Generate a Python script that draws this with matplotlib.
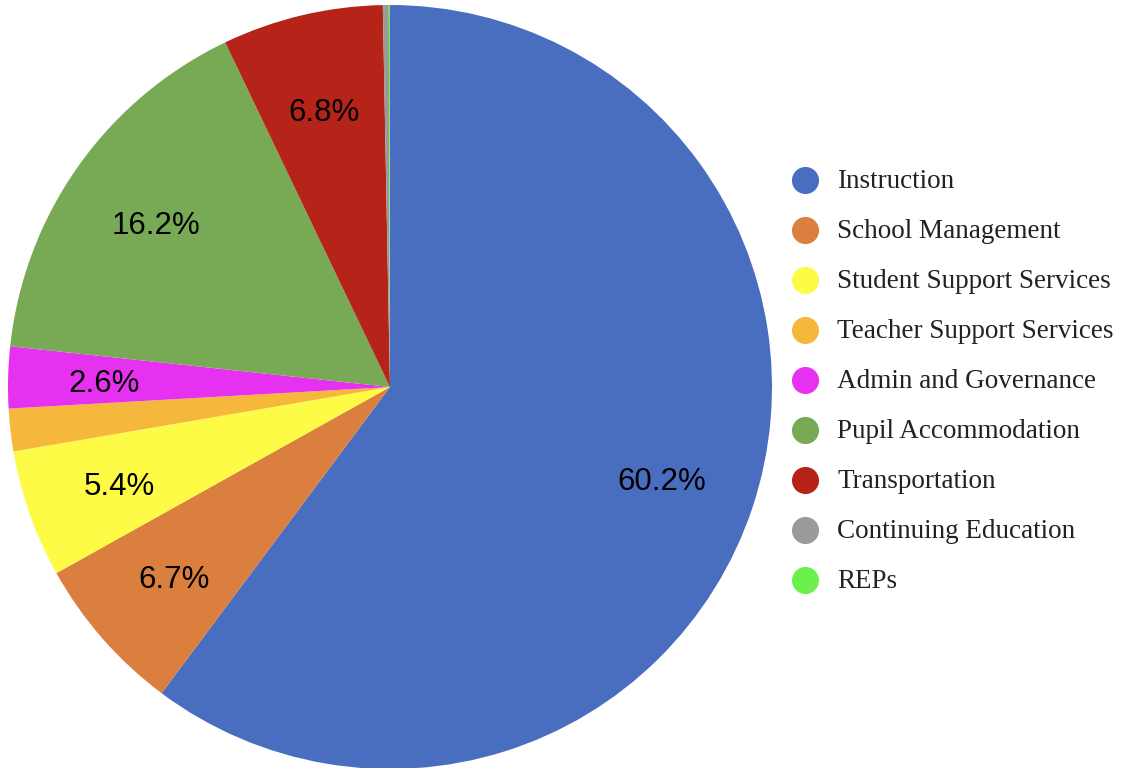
import matplotlib.pyplot as plt

categories = ["Instruction", "School Management", "Student Support Services",
              "Teacher Support Services", "Admin and Governance", "Pupil Accommodation",
              "Transportation", "Continuing Education", "REPs"]
shares = [60.2, 6.7, 5.4, 1.8, 2.6, 16.2, 6.8, 0.25, 0.05]
colors = ["#4A6EBF", "#DA7F3E", "#FDFB45", "#F6B83C", "#E731F0",
          "#78A955", "#B62319", "#9A9A9A", "#6CF04C"]

W, H = 1129, 768
fig = plt.figure(figsize=(W / 100, H / 100), dpi=100)

# pie axes: centre (390, 387), radius 382 px
cx, cy, r = 390, 387, 382
ax = fig.add_axes([(cx - r) / W, (H - cy - r) / H, 2 * r / W, 2 * r / H])
wedges, texts, pcts = ax.pie(
    shares, colors=colors, startangle=90, counterclock=False,
    autopct=lambda p: f"{p:.1f}%" if p > 2 else "", pctdistance=0.75,
    wedgeprops=dict(linewidth=0),
    textprops=dict(fontsize=22.5, family=["Liberation Sans", "DejaVu Sans"], color="black"))
for t in pcts:
    x, y = t.get_position()
    t.set_position((x, y - 0.012))
ax.set_xlim(-1, 1)
ax.set_ylim(-1, 1)
ax.axis("off")

# legend, drawn in pixel coordinates
lg = fig.add_axes([0, 0, 1, 1])
lg.set_xlim(0, W)
lg.set_ylim(H, 0)
lg.axis("off")
for i, (name, c) in enumerate(zip(categories, colors)):
    y = 180 + 50 * i
    lg.scatter([805], [y], s=380, color=c, linewidths=0)
    lg.text(837, y + 1, name, va="center", ha="left", fontsize=19.5,
            family=["Liberation Serif", "DejaVu Serif"], color="#222222")

fig.savefig("out.png", dpi=100)
